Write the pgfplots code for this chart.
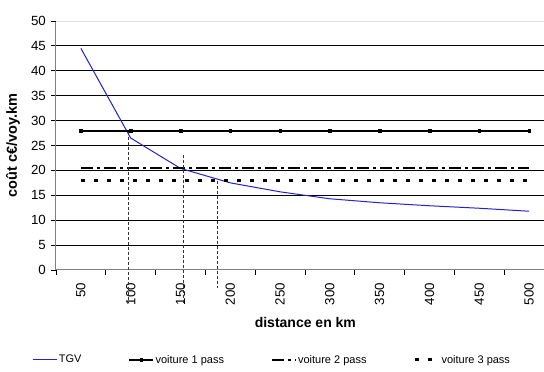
\documentclass[border=0pt]{standalone}
\usepackage{pgfplots}
\pgfplotsset{compat=1.18}
\usepackage{fontspec}
\setmainfont{Liberation Sans}
\definecolor{tgv}{RGB}{35,35,200}
\begin{document}
\begin{tikzpicture}
\useasboundingbox (0,0) rectangle (544bp,372bp);
\begin{axis}[
  at={(56bp,102bp)}, anchor=south west,
  scale only axis, width=488bp, height=249bp,
  xmin=-0.5, xmax=9.3, ymin=0, ymax=50,
  clip=false,
  axis x line*=bottom, axis y line*=left,
  axis line style={draw=gray, line width=1bp, -},
  tick align=outside,
  major tick length=5bp, minor tick length=5bp,
  xtick={0,...,9},
  xticklabels={50,100,150,200,250,300,350,400,450,500},
  minor xtick={-0.5,0.5,...,8.5},
  xtick style={draw=none},
  minor x tick style={draw=black, line width=0.8bp},
  ytick={5,10,...,45},
  extra y ticks={0,50},
  extra y tick style={grid=none},
  ytick style={draw=black, line width=0.8bp},
  ymajorgrids,
  major grid style={black, line width=0.8bp},
  /pgf/number format/assume math mode=true,
  ticklabel style={font=\fontsize{13.3bp}{15bp}\selectfont},
  yticklabel style={inner sep=0pt},
  xticklabel style={rotate=90, anchor=east, inner sep=0pt},
  xticklabel shift=8bp,
  yticklabel shift=5bp,
  xlabel={distance en km},
  xlabel style={at={(axis description cs:0.511,-0.209)}, anchor=center, font=\bfseries\fontsize{14bp}{16bp}\selectfont},
  ylabel={coût c€/voy.km},
  ylabel style={at={(axis description cs:-0.088,0.5)}, anchor=center, font=\bfseries\fontsize{14.5bp}{16bp}\selectfont},
  legend columns=4,
  legend style={at={(axis description cs:0.4426,-0.361)}, anchor=center, draw=none,
    font=\fontsize{11bp}{13bp}\selectfont,
    nodes={inner xsep=1.5bp, inner ysep=1bp},
    /tikz/every even column/.append style={column sep=45bp}},
  legend image code/.code={\draw[mark repeat=2,mark phase=2,#1] plot coordinates {(0bp,0bp) (12bp,0bp) (24bp,0bp)};},
]
\draw[gray!25, line width=0.8bp] (rel axis cs:0,1) -- (rel axis cs:1,1);
\addplot[color=tgv, line width=1bp, mark=none] coordinates {
 (0,44.5) (1,26.5) (2,20.4) (3,17.5) (4,15.7) (5,14.3) (6,13.5) (7,12.9) (8,12.4) (9,11.8)};
\addlegendentry{TGV}
\addplot[black, line width=2bp, mark=square*, mark size=1.3bp, mark options={solid, line width=0.5bp}] coordinates {
 (0,28) (1,28) (2,28) (3,28) (4,28) (5,28) (6,28) (7,28) (8,28) (9,28)};
\addlegendentry{voiture 1 pass}
\addplot[black, line width=2bp, dash pattern=on 12bp off 4bp on 3bp off 4bp, mark=none] coordinates {
 (0,20.4) (1,20.4) (2,20.4) (3,20.4) (4,20.4) (5,20.4) (6,20.4) (7,20.4) (8,20.4) (9,20.4)};
\addlegendentry{voiture 2 pass}
\addplot[black, line width=3bp, dash pattern=on 4bp off 9bp, mark=none] coordinates {
 (0,18) (1,18) (2,18) (3,18) (4,18) (5,18) (6,18) (7,18) (8,18) (9,18)};
\addlegendentry{voiture 3 pass}
\addplot[black!80, line width=0.6bp, dash pattern=on 3bp off 2bp, forget plot] coordinates {(0.945,27.8) (0.945,-6.6)};
\addplot[black!80, line width=0.6bp, dash pattern=on 3bp off 2bp, forget plot] coordinates {(2.05,23.1) (2.05,-6.6)};
\addplot[black!80, line width=0.6bp, dash pattern=on 3bp off 2bp, forget plot] coordinates {(2.73,17.9) (2.73,-3.6)};
\end{axis}
\end{tikzpicture}
\end{document}
